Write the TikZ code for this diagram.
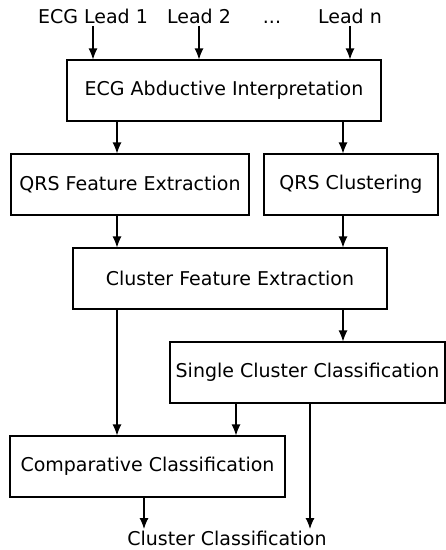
\documentclass[tikz,border=0pt]{standalone}
\usepackage{fontspec}
\setmainfont{DejaVu Sans}
\usetikzlibrary{arrows.meta}
\tikzset{>={Latex[length=11pt,width=9pt]},
  block/.style={draw,line width=1.1pt,minimum height=61pt,inner sep=0pt},
  lbl/.style={anchor=base,inner sep=2pt}}

\begin{document}
\begin{tikzpicture}[x=1pt,y=-1pt,line width=1.1pt,font=\fontsize{19}{23}\selectfont]
\useasboundingbox (0,0) rectangle (446,550);
\node[lbl] (lead1) at (93,23) {ECG Lead 1};
\node[lbl] (lead2) at (199,23) {Lead 2};
\node[lbl] (dots) at (272,23) {...};
\node[lbl] (leadn) at (350,23) {Lead n};
\node[block,minimum width=314pt] (ecg) at (224,90.5) {ECG Abductive Interpretation};
\node[block,minimum width=238pt] (qfe) at (130,184.5) {QRS Feature Extraction};
\node[block,minimum width=174pt] (qcl) at (351,184.5) {QRS Clustering};
\node[block,minimum width=314pt] (cfe) at (230,278.5) {Cluster Feature Extraction};
\node[block,minimum width=275pt] (scc) at (307.5,372.5) {Single Cluster Classification};
\node[block,minimum width=275pt] (cc) at (147.5,466.5) {Comparative Classification};
\node[lbl,inner sep=0pt] (out) at (227,545) {Cluster Classification};
\draw[->] (lead1.south)--(lead1.south |- ecg.north);
\draw[->] (lead2.south)--(lead2.south |- ecg.north);
\draw[->] (leadn.south)--(leadn.south |- ecg.north);
\draw[->] (117,0 |- ecg.south)--(117,0 |- qfe.north);
\draw[->] (343,0 |- ecg.south)--(343,0 |- qcl.north);
\draw[->] (117,0 |- qfe.south)--(117,0 |- cfe.north);
\draw[->] (343,0 |- qcl.south)--(343,0 |- cfe.north);
\draw[->] (343,0 |- cfe.south)--(343,0 |- scc.north);
\draw[->] (117,0 |- cfe.south)--(117,0 |- cc.north);
\draw[->] (236,0 |- scc.south)--(236,0 |- cc.north);
\draw[->] (310,0 |- scc.south)--(310,529);
\draw[->] (144,0 |- cc.south)--(144,529);
\end{tikzpicture}
\end{document}
